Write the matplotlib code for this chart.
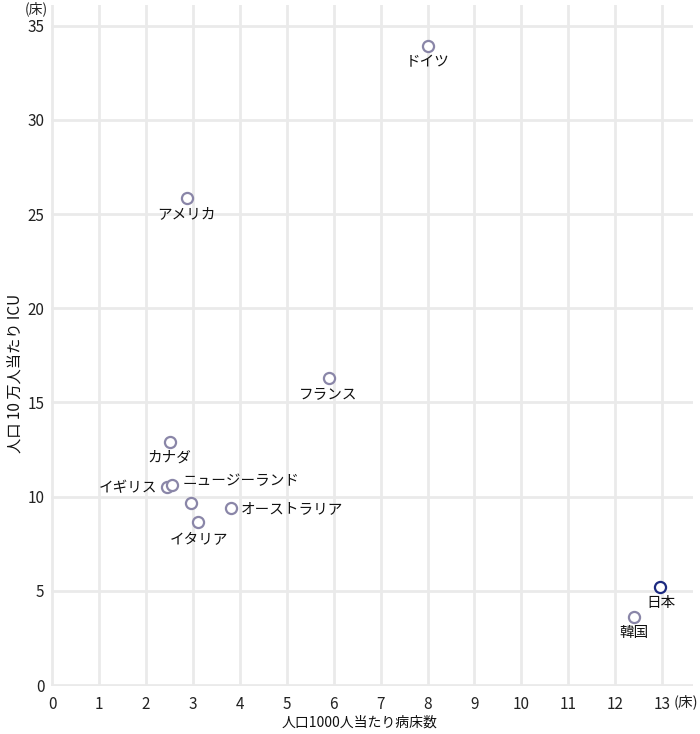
import matplotlib
matplotlib.use("Agg")
import matplotlib.pyplot as plt

plt.rcParams['font.family'] = ['Noto Sans CJK JP', 'DejaVu Sans']

countries = ["ドイツ", "アメリカ", "フランス", "カナダ", "イギリス", "ニュージーランド",
             "", "イタリア", "オーストラリア", "韓国", "日本"]
beds_per_1000 = [8.0, 2.87, 5.89, 2.51, 2.44, 2.56, 2.95, 3.11, 3.82, 12.41, 12.95]
icu_per_100k = [33.9, 25.86, 16.3, 12.9, 10.51, 10.6, 9.69, 8.64, 9.4, 3.62, 5.23]
x_ticks = list(range(0, 14))
y_ticks = [0, 5, 10, 15, 20, 25, 30, 35]

# label placement: (dx px, dy px, ha, va)
placement = {
    "ドイツ": (0, -16, "center", "center"),
    "アメリカ": (0, -16, "center", "center"),
    "フランス": (0, -16.5, "center", "center"),
    "カナダ": (-1, -16, "center", "center"),
    "イギリス": (-9, -1, "right", "center"),
    "ニュージーランド": (10, 4, "left", "center"),
    "イタリア": (1, -17, "center", "center"),
    "オーストラリア": (9, -1, "left", "center"),
    "韓国": (0, -16, "center", "center"),
    "日本": (1, -16, "center", "center"),
}

fig = plt.figure(figsize=(7.0, 7.34), dpi=100)
ax = fig.add_axes([51.3 / 700, 1 - 686 / 734, (693 - 51.3) / 700, (686 - 5) / 734])

ax.set_xlim(-0.02, 13.66)
ax.set_ylim(-0.05, 36.1)
ax.set_xticks(x_ticks)
ax.set_yticks(y_ticks)
ax.grid(True, color="#eaeaea", linewidth=2)
ax.set_axisbelow(True)
for s in ax.spines.values():
    s.set_visible(False)
ax.tick_params(length=0, labelsize=11, colors="#222222")
ax.tick_params(axis="x", pad=7)
ax.tick_params(axis="y", pad=5)

for name, x, y in zip(countries, beds_per_1000, icu_per_100k):
    col = "#1c2a80" if name == "日本" else "#8a86a8"
    ax.plot([x], [y], marker="o", markersize=8, markerfacecolor="white",
            markeredgecolor=col, markeredgewidth=1.6, linestyle="none", zorder=3)
    if name:
        dx, dy, ha, va = placement[name]
        ax.annotate(name, (x, y), xytext=(dx, dy), textcoords="offset pixels",
                    ha=ha, va=va, fontsize=10.5, color="#111111", zorder=4)

fig.text(36 / 700, 1 - 9 / 734, "(床)", ha="center", va="center", fontsize=10, color="#222222")
fig.text(686 / 700, 1 - 702 / 734, "(床)", ha="center", va="center", fontsize=10.5, color="#222222")
fig.text(359 / 700, 1 - 723 / 734, "人口1000人当たり病床数", ha="center", va="center",
         fontsize=10, color="#111111")
fig.text(15 / 700, 1 - 373 / 734, "人口 10 万人当たり ICU", ha="center", va="center",
         rotation=90, fontsize=11, color="#111111")

fig.savefig("out.png", dpi=100)
